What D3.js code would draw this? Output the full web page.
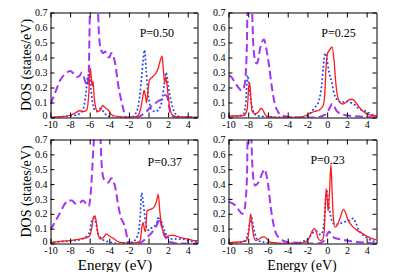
<!DOCTYPE html>
<html>
<head>
<meta charset="utf-8">
<script src="https://cdn.jsdelivr.net/npm/d3@7"></script>
<style>
  body { margin: 0; background: #fff; }
  text { font-family: "Liberation Serif", "Times New Roman", serif; fill: #000; }
</style>
</head>
<body>
<div id="chart"></div>
<script>
const width = 395;
const height = 272;

// tick values shared by all panels
const xTicks = [-10, -8, -6, -4, -2, 0, 2, 4];
const yTicks = [0, 0.1, 0.2, 0.3, 0.4, 0.5, 0.6, 0.7];
const yTickLabels = ["0", "0.1", "0.2", "0.3", "0.4", "0.5", "0.6", "0.7"];
const panelNames = ["P=0.50", "P=0.25", "P=0.37", "P=0.23"];
// label anchor in data units [energy, dos]
const labelPos = [[-0.9, 0.54], [-0.6, 0.535], [-0.1, 0.52], [-1.7, 0.535]];

// P=0.50
const p50Purple = [[-10,0.09],[-9.5,0.17],[-9,0.25],[-8.5,0.29],[-8,0.31],[-7.6,0.29],[-7.3,0.27],[-7,0.28],[-6.8,0.30],[-6.5,0.25],[-6.25,0.21],[-6.1,0.3],[-5.95,0.75],[-5.2,0.75],[-5.05,0.55],[-4.85,0.45],[-4.6,0.43],[-4.4,0.44],[-4.2,0.41],[-4.0,0.40],[-3.8,0.43],[-3.6,0.41],[-3.4,0.36],[-3.1,0.22],[-2.8,0.12],[-2.55,0.05],[-2.35,0.0],[-1.5,0],[-1,0.005],[-0.6,0.02],[-0.2,0.04],[0.2,0.07],[0.6,0.09],[1.0,0.11],[1.3,0.12],[1.5,0.14],[1.7,0.15],[1.9,0.14],[2.1,0.07],[2.4,0.01],[3,0],[5,0]];
const p50Blue = [[-10,0],[-9,0.005],[-8,0.01],[-7.2,0.02],[-6.7,0.05],[-6.4,0.15],[-6.2,0.27],[-6.05,0.29],[-5.9,0.2],[-5.7,0.1],[-5.5,0.05],[-5.2,0.04],[-4.9,0.06],[-4.6,0.04],[-4.2,0.01],[-3.5,0],[-1.8,0],[-1.4,0.02],[-1.1,0.06],[-0.9,0.14],[-0.7,0.27],[-0.55,0.38],[-0.4,0.45],[-0.25,0.33],[-0.1,0.2],[0.05,0.12],[0.3,0.05],[0.7,0.04],[1.1,0.06],[1.4,0.12],[1.6,0.22],[1.8,0.30],[2.0,0.22],[2.2,0.14],[2.5,0.06],[2.8,0.02],[3.2,0.005],[5,0]];
const p50Red = [[-10,0],[-9,0.005],[-8,0.015],[-7.5,0.03],[-7,0.045],[-6.6,0.04],[-6.3,0.05],[-6.1,0.15],[-5.95,0.33],[-5.85,0.28],[-5.75,0.21],[-5.65,0.24],[-5.55,0.14],[-5.4,0.07],[-5.2,0.04],[-4.9,0.05],[-4.7,0.08],[-4.5,0.07],[-4.3,0.06],[-4.1,0.05],[-3.8,0.02],[-3.4,0.01],[-3,0.005],[-2,0],[-1.3,0.005],[-1,0.02],[-0.8,0.06],[-0.6,0.13],[-0.45,0.18],[-0.3,0.14],[-0.2,0.10],[-0.05,0.18],[0.1,0.25],[0.4,0.27],[0.7,0.29],[1.0,0.33],[1.2,0.38],[1.38,0.41],[1.5,0.33],[1.65,0.23],[1.75,0.27],[1.85,0.24],[2.0,0.15],[2.15,0.07],[2.4,0.02],[2.8,0.005],[5,0]];

// P=0.25
const p25Purple = [[-10,0.28],[-9.7,0.27],[-9.4,0.24],[-9,0.2],[-8.7,0.18],[-8.5,0.19],[-8.3,0.25],[-8.15,0.45],[-8.05,0.75],[-7.65,0.75],[-7.5,0.5],[-7.3,0.38],[-7.15,0.36],[-7.0,0.38],[-6.8,0.46],[-6.4,0.52],[-6.2,0.47],[-5.9,0.35],[-5.6,0.2],[-5.3,0.09],[-5.0,0.04],[-4.6,0.015],[-4,0.005],[-3,0],[-1,0],[-0.5,0.01],[0,0.03],[0.3,0.07],[0.5,0.09],[0.7,0.08],[0.9,0.05],[1.2,0.03],[1.6,0.02],[2.5,0.01],[3.5,0.005],[5,0]];
const p25Blue = [[-10,0.005],[-9,0.01],[-8.5,0.02],[-8.25,0.1],[-8.05,0.28],[-7.9,0.2],[-7.7,0.1],[-7.4,0.03],[-7,0.01],[-6,0.005],[-5,0],[-2.5,0],[-2,0.01],[-1.6,0.04],[-1.2,0.07],[-0.8,0.12],[-0.55,0.22],[-0.4,0.33],[-0.2,0.43],[0.0,0.38],[0.2,0.3],[0.45,0.24],[0.7,0.16],[1.0,0.12],[1.5,0.1],[1.9,0.11],[2.3,0.1],[2.7,0.09],[3.0,0.07],[3.5,0.05],[4.0,0.04],[4.5,0.02],[5,0.01]];
const p25Red = [[-10,0.01],[-9,0.01],[-8.4,0.015],[-8.1,0.06],[-7.95,0.2],[-7.85,0.23],[-7.75,0.15],[-7.6,0.04],[-7.3,0.025],[-7.0,0.035],[-6.7,0.06],[-6.5,0.05],[-6.3,0.02],[-6,0.005],[-5,0],[-2.8,0],[-2.3,0.01],[-1.8,0.025],[-1.3,0.04],[-0.8,0.05],[-0.4,0.08],[-0.25,0.15],[-0.1,0.35],[0.05,0.43],[0.25,0.45],[0.5,0.47],[0.7,0.38],[0.85,0.25],[1.0,0.16],[1.3,0.1],[1.6,0.09],[1.9,0.1],[2.3,0.12],[2.6,0.12],[3.0,0.09],[3.5,0.05],[4.0,0.025],[4.5,0.015],[5,0.01]];

// P=0.37
const p37Purple = [[-10,0.09],[-9.5,0.15],[-9,0.21],[-8.6,0.26],[-8.2,0.29],[-7.8,0.29],[-7.5,0.27],[-7.2,0.27],[-6.9,0.28],[-6.7,0.29],[-6.4,0.27],[-6.1,0.25],[-5.95,0.3],[-5.8,0.43],[-5.6,0.67],[-5.5,0.75],[-4.95,0.75],[-4.8,0.55],[-4.6,0.44],[-4.4,0.42],[-4.1,0.41],[-3.8,0.44],[-3.6,0.42],[-3.4,0.38],[-3.1,0.26],[-2.8,0.17],[-2.5,0.13],[-2.3,0.08],[-2.15,0.03],[-2.0,0],[-1.2,0],[-0.7,0.01],[-0.3,0.03],[0,0.05],[0.3,0.07],[0.6,0.1],[0.9,0.13],[1.1,0.17],[1.3,0.13],[1.6,0.06],[2.0,0.02],[2.5,0.005],[3,0],[5,0]];
const p37Blue = [[-10,0],[-9.5,0.01],[-8.5,0.015],[-7.5,0.02],[-6.8,0.03],[-6.3,0.05],[-6.0,0.08],[-5.8,0.15],[-5.6,0.17],[-5.4,0.15],[-5.2,0.08],[-4.9,0.04],[-4.5,0.02],[-4,0.01],[-3,0],[-1.6,0.01],[-1.3,0.03],[-1.0,0.08],[-0.85,0.18],[-0.7,0.34],[-0.55,0.28],[-0.4,0.2],[-0.25,0.12],[0,0.09],[0.4,0.11],[0.8,0.13],[1.05,0.18],[1.25,0.16],[1.55,0.1],[1.9,0.05],[2.2,0.03],[2.8,0.03],[3.5,0.03],[4,0.02],[5,0.01]];
const p37Red = [[-10,0.005],[-9,0.015],[-8,0.02],[-7,0.03],[-6.3,0.04],[-6,0.05],[-5.8,0.1],[-5.6,0.18],[-5.45,0.185],[-5.3,0.13],[-5.1,0.05],[-4.9,0.03],[-4.6,0.04],[-4.3,0.065],[-4.0,0.05],[-3.6,0.035],[-3.2,0.015],[-2.6,0.005],[-2,0],[-1.2,0.005],[-0.85,0.02],[-0.7,0.1],[-0.55,0.14],[-0.4,0.09],[-0.3,0.08],[-0.15,0.22],[0.2,0.23],[0.5,0.24],[0.8,0.28],[1.0,0.33],[1.15,0.22],[1.3,0.13],[1.5,0.08],[1.7,0.045],[2.0,0.05],[2.4,0.057],[2.8,0.05],[3.3,0.04],[4.0,0.03],[4.7,0.02],[5,0.02]];

// P=0.23
const p23Purple = [[-10,0.28],[-9.6,0.27],[-9.2,0.25],[-8.9,0.22],[-8.6,0.2],[-8.4,0.22],[-8.25,0.3],[-8.12,0.47],[-8.05,0.75],[-7.72,0.75],[-7.6,0.55],[-7.45,0.42],[-7.3,0.39],[-7.1,0.40],[-6.9,0.42],[-6.6,0.47],[-6.35,0.50],[-6.15,0.46],[-5.95,0.38],[-5.75,0.26],[-5.5,0.15],[-5.2,0.07],[-4.9,0.04],[-4.5,0.02],[-4,0.01],[-3,0.005],[-1,0],[-0.5,0.01],[-0.2,0.03],[0,0.06],[0.2,0.08],[0.4,0.06],[0.7,0.04],[1.2,0.03],[2,0.02],[3,0.01],[4,0.005],[5,0]];
const p23Blue = [[-10,0],[-9,0.005],[-8.3,0.02],[-8.0,0.08],[-7.8,0.15],[-7.65,0.17],[-7.5,0.12],[-7.3,0.06],[-7,0.02],[-6.5,0.01],[-6,0.005],[-5,0],[-2.8,0.005],[-2.4,0.015],[-2,0.03],[-1.6,0.06],[-1.3,0.08],[-1.0,0.08],[-0.7,0.06],[-0.45,0.08],[-0.3,0.15],[-0.15,0.3],[0.0,0.35],[0.12,0.28],[0.27,0.22],[0.45,0.16],[0.75,0.13],[1.1,0.13],[1.5,0.14],[2.0,0.15],[2.4,0.16],[2.65,0.17],[2.9,0.14],[3.2,0.09],[3.6,0.06],[4,0.04],[4.5,0.02],[5,0.01]];
const p23Red = [[-10,0.005],[-9,0.01],[-8.3,0.015],[-8.0,0.05],[-7.85,0.15],[-7.75,0.2],[-7.6,0.12],[-7.45,0.05],[-7.2,0.02],[-6.9,0.03],[-6.6,0.043],[-6.35,0.045],[-6.1,0.03],[-5.8,0.01],[-5.3,0.005],[-4.5,0],[-3,0],[-2.5,0.005],[-2.1,0.015],[-1.8,0.04],[-1.55,0.08],[-1.3,0.1],[-1.1,0.08],[-0.95,0.04],[-0.7,0.02],[-0.45,0.03],[-0.3,0.08],[-0.2,0.25],[-0.1,0.37],[0.0,0.3],[0.1,0.22],[0.22,0.32],[0.38,0.53],[0.5,0.35],[0.62,0.18],[0.8,0.11],[1.0,0.12],[1.3,0.17],[1.65,0.23],[1.85,0.21],[2.1,0.16],[2.5,0.12],[3,0.09],[3.5,0.07],[4,0.05],[4.5,0.035],[5,0.025]];

const panels = [
  { name: panelNames[0], label: labelPos[0], left: 50.5, right: 197.5, top: 12.5, bottom: 117.5, series: [p50Purple, p50Blue, p50Red] },
  { name: panelNames[1], label: labelPos[1], left: 228.5, right: 376.5, top: 12.5, bottom: 117.5, series: [p25Purple, p25Blue, p25Red] },
  { name: panelNames[2], label: labelPos[2], left: 50.5, right: 197.5, top: 139.5, bottom: 243.5, series: [p37Purple, p37Blue, p37Red] },
  { name: panelNames[3], label: labelPos[3], left: 228.5, right: 376.5, top: 139.5, bottom: 243.5, series: [p23Purple, p23Blue, p23Red] }
];

// purple dashed, blue dotted, red solid
const styles = [
  { color: "#a335f5", width: 2, dash: "8,4", cap: "butt" },
  { color: "#2b4cf5", width: 2, dash: "0.1,4", cap: "round" },
  { color: "#ff1a1a", width: 1.3, dash: null, cap: "butt" }
];

const serif = "'Liberation Serif', 'Times New Roman', serif";

const svg = d3.select("#chart")
    .append("svg")
    .attr("width", width)
    .attr("height", height);

const fmtX = d => d < 0 ? "-" + Math.abs(d) : String(d);

panels.forEach((p, i) => {
    const x = d3.scaleLinear().domain([-10, 5]).range([p.left, p.right]);
    const y = d3.scaleLinear().domain([0, 0.7]).range([p.bottom, p.top]);

    svg.append("clipPath")
        .attr("id", "clip" + i)
        .append("rect")
        .attr("x", p.left)
        .attr("y", p.top)
        .attr("width", p.right - p.left)
        .attr("height", p.bottom - p.top);

    const line = d3.line()
        .x(d => x(d[0]))
        .y(d => y(d[1]))
        .curve(d3.curveMonotoneX);

    const g = svg.append("g").attr("clip-path", `url(#clip${i})`);
    p.series.forEach((s, k) => {
        g.append("path")
            .datum(s)
            .attr("fill", "none")
            .attr("stroke", styles[k].color)
            .attr("stroke-width", styles[k].width)
            .attr("stroke-dasharray", styles[k].dash)
            .attr("stroke-linecap", styles[k].cap)
            .attr("d", line);
    });

    // frame with inward ticks on all sides
    svg.append("g")
        .attr("transform", `translate(0,${p.bottom})`)
        .attr("font-family", serif)
        .attr("font-size", 10)
        .call(d3.axisBottom(x).tickValues(xTicks).tickFormat(fmtX).tickSizeInner(-5).tickSizeOuter(0).tickPadding(3));

    svg.append("g")
        .attr("transform", `translate(0,${p.top})`)
        .call(d3.axisTop(x).tickValues(xTicks).tickFormat("").tickSizeInner(-5).tickSizeOuter(0));

    svg.append("g")
        .attr("transform", `translate(${p.left},0)`)
        .attr("font-family", serif)
        .attr("font-size", 10)
        .call(d3.axisLeft(y).tickValues(yTicks).tickFormat((d, j) => yTickLabels[j]).tickSizeInner(-4).tickSizeOuter(0).tickPadding(3))
        .call(a => a.selectAll("text").filter(d => d === 0).attr("dy", "0.1em"));

    svg.append("g")
        .attr("transform", `translate(${p.right},0)`)
        .call(d3.axisRight(y).tickValues(yTicks).tickFormat("").tickSizeInner(-4).tickSizeOuter(0));

    svg.append("text")
        .attr("x", x(p.label[0]))
        .attr("y", y(p.label[1]))
        .style("font-size", "12px")
        .text(p.name);
});

// axis titles
[[31, 65], [31, 191.5]].forEach(([tx, ty]) => {
    svg.append("text")
        .attr("transform", `translate(${tx},${ty}) rotate(-90)`)
        .attr("text-anchor", "middle")
        .style("font-size", "14px")
        .text("DOS (states/eV)");
});

[[115, 269.5, 15], [302, 269.5, 14]].forEach(([tx, ty, fs]) => {
    svg.append("text")
        .attr("x", tx)
        .attr("y", ty)
        .attr("text-anchor", "middle")
        .style("font-size", fs + "px")
        .text("Energy (eV)");
});
</script>
</body>
</html>
